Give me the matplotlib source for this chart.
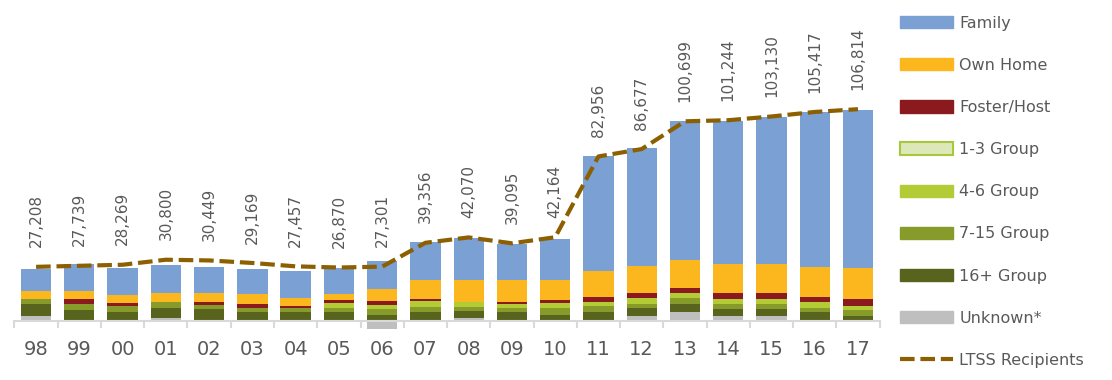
import matplotlib.pyplot as plt
import numpy as np
from matplotlib.patches import Patch
from matplotlib.lines import Line2D

years = ["98", "99", "00", "01", "02", "03", "04", "05", "06", "07",
         "08", "09", "10", "11", "12", "13", "14", "15", "16", "17"]

unknown = [2250, 250, 0, 1150, 0, 0, 0, 0, -4200, 0,
           1150, 0, -400, 0, 2300, 4500, 2300, 2300, 0, 300]
group16 = [6050, 5050, 4550, 5050, 5900, 4200, 4200, 4200, 2900, 4200,
           3900, 4200, 3000, 4200, 4200, 3900, 3400, 3400, 4200, 2000]
group7_15 = [2500, 3400, 3000, 3400, 2200, 2000, 2000, 2000, 3000, 2900,
             2000, 2000, 3200, 3000, 2200, 2900, 2700, 2700, 2000, 3000]
group4_6 = [0, 0, 0, 0, 0, 0, 0, 3000, 2200, 2700,
            2200, 2200, 3000, 2400, 3000, 2500, 2400, 2400, 3400, 2200]
group1_3 = [0, 0, 0, 0, 0, 0, 0, 0, 0, 0,
            0, 0, 0, 0, 0, 0, 0, 0, 0, 0]
foster = [0, 2200, 1500, 0, 1150, 2200, 1350, 1350, 1650, 1200,
          350, 1150, 1300, 2200, 2300, 2500, 3300, 3300, 2200, 3400]
own_home = [4200, 4200, 3900, 4200, 4550, 5350, 3900, 3200, 6250, 9750,
            11100, 11100, 10100, 13500, 13500, 14300, 14500, 14500, 15500, 15500]
family = [11300, 13500, 13500, 14500, 13500, 12300, 13600, 13100, 14300, 19200,
          21000, 18000, 20900, 57700, 59900, 70300, 72200, 74400, 77900, 79900]
ltss = [27208, 27739, 28269, 30800, 30449, 29169, 27457, 26870, 27301, 39356,
        42070, 39095, 42164, 82956, 86677, 100699, 101244, 103130, 105417, 106814]

colors = {
    "Family": "#7ba0d4",
    "Own Home": "#fdb71e",
    "Foster/Host": "#8b1a1f",
    "1-3 Group": "#dde8b9",
    "4-6 Group": "#b3cb34",
    "7-15 Group": "#879b2b",
    "16+ Group": "#58641e",
    "Unknown*": "#bfbfbf",
}
line_color = "#8c6000"
text_color = "#595959"

fig = plt.figure(figsize=(11.12, 3.8), dpi=100)
ax = fig.add_axes([0.013, 0.1247, 0.778, 0.8753])

x = np.arange(len(years))
w = 0.7

# unknown can be negative (drawn below the axis), the rest stack up from 0
unk = np.array(unknown)
ax.bar(x, unk, w, color=colors["Unknown*"], zorder=2)
bottom = np.maximum(unk, 0).astype(float)
stack = [("16+ Group", group16), ("7-15 Group", group7_15), ("4-6 Group", group4_6),
         ("1-3 Group", group1_3), ("Foster/Host", foster), ("Own Home", own_home),
         ("Family", family)]
for name, vals in stack:
    vals = np.array(vals, dtype=float)
    ax.bar(x, vals, w, bottom=bottom, color=colors[name], zorder=2)
    bottom = bottom + vals

ax.plot(x, ltss, color=line_color, lw=3, linestyle=(0, (3.5, 1.4)), zorder=3)
for i, v in enumerate(ltss):
    ax.annotate(f"{v:,}", (x[i], v), xytext=(0, 14), textcoords="offset points",
                rotation=90, ha="center", va="bottom", fontsize=11, color=text_color)

ax.set_xlim(-0.5, len(years) - 0.5)
ax.set_ylim(-6000, 161950)
for s in ["top", "right", "left"]:
    ax.spines[s].set_visible(False)
ax.spines["bottom"].set_position(("data", 0))
ax.spines["bottom"].set_color("#d9d9d9")
ax.spines["bottom"].set_linewidth(1.5)
ax.set_yticks([])
ax.set_xticks(x)
ax.set_xticklabels(years)
ax.set_xticks(np.arange(-0.5, len(years)), minor=True)
ax.tick_params(axis="x", which="major", length=0, pad=14, labelsize=14, labelcolor=text_color)
ax.tick_params(axis="x", which="minor", length=5, width=1.5, color="#d9d9d9")

handles = [Patch(facecolor=colors[k], edgecolor=colors[k]) for k in
           ["Family", "Own Home", "Foster/Host"]]
handles.append(Patch(facecolor=colors["1-3 Group"], edgecolor="#a8c83c", linewidth=1.5))
handles += [Patch(facecolor=colors[k], edgecolor=colors[k]) for k in
            ["4-6 Group", "7-15 Group", "16+ Group", "Unknown*"]]
handles.append(Line2D([], [], color=line_color, lw=3, linestyle=(0, (3.5, 1.4))))
labels = ["Family", "Own Home", "Foster/Host", "1-3 Group", "4-6 Group",
          "7-15 Group", "16+ Group", "Unknown*", "LTSS Recipients"]
fig.legend(handles, labels, loc="upper left", bbox_to_anchor=(0.8094, 0.9587),
           frameon=False, fontsize=11.5, labelcolor=text_color, handlelength=3.3,
           handleheight=0.8, handletextpad=0.4, labelspacing=1.7,
           borderpad=0, borderaxespad=0)

plt.savefig("out.png", dpi=100)
